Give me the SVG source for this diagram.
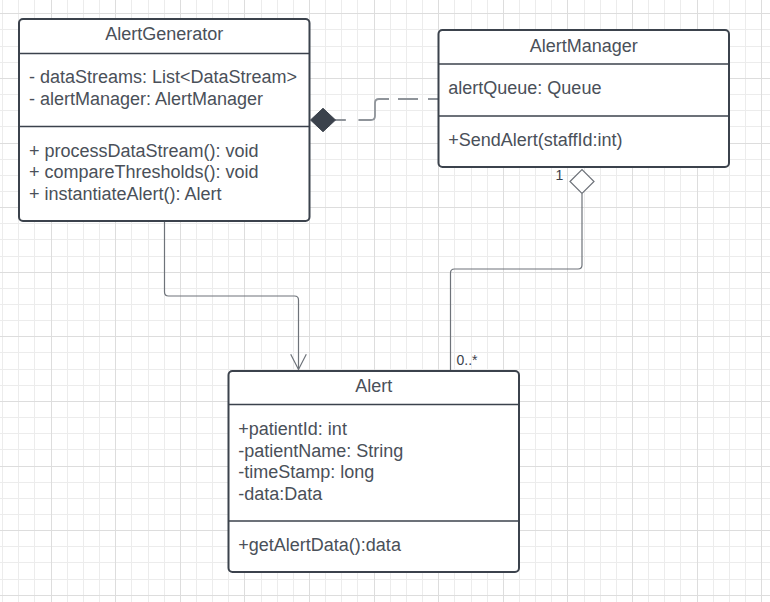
<svg xmlns="http://www.w3.org/2000/svg" width="770" height="602" viewBox="0 0 770 602">
<style>
.minor{stroke:#ececec;stroke-width:1;fill:none}
.major{stroke:#dddddd;stroke-width:1;fill:none}
.box{fill:#ffffff;stroke:#3b424c;stroke-width:2}
.div{stroke:#3b424c;stroke-width:1.6}
.t{font-family:"Liberation Sans",Arial,sans-serif;font-size:18px;fill:#4a5059}
.c{text-anchor:middle}
.lbl{font-family:"Liberation Sans",Arial,sans-serif;font-size:14px;fill:#3b424c}
.conn{fill:none;stroke:#6e737a;stroke-width:1.2}
</style>
<rect width="770" height="602" fill="#ffffff"/>
<g id="grid">
<path class="minor" d="M2.5,0V602M18.5,0V602M34.5,0V602M67.5,0V602M83.5,0V602M99.5,0V602M131.5,0V602M148.5,0V602M164.5,0V602M196.5,0V602M212.5,0V602M228.5,0V602M261.5,0V602M277.5,0V602M293.5,0V602M325.5,0V602M341.5,0V602M357.5,0V602M390.5,0V602M406.5,0V602M422.5,0V602M454.5,0V602M471.5,0V602M487.5,0V602M519.5,0V602M535.5,0V602M551.5,0V602M584.5,0V602M600.5,0V602M616.5,0V602M648.5,0V602M664.5,0V602M680.5,0V602M713.5,0V602M729.5,0V602M745.5,0V602
M0,29.5H770M0,46.5H770M0,62.5H770M0,94.5H770M0,110.5H770M0,126.5H770M0,159.5H770M0,175.5H770M0,191.5H770M0,223.5H770M0,239.5H770M0,256.5H770M0,288.5H770M0,304.5H770M0,320.5H770M0,352.5H770M0,369.5H770M0,385.5H770M0,417.5H770M0,433.5H770M0,449.5H770M0,482.5H770M0,498.5H770M0,514.5H770M0,546.5H770M0,562.5H770M0,579.5H770"/>
<path class="major" d="M51.5,0V602M115.5,0V602M180.5,0V602M244.5,0V602M309.5,0V602M374.5,0V602M438.5,0V602M503.5,0V602M567.5,0V602M632.5,0V602M697.5,0V602M761.5,0V602
M0,13.5H770M0,78.5H770M0,143.5H770M0,207.5H770M0,272.5H770M0,336.5H770M0,401.5H770M0,466.5H770M0,530.5H770M0,595.5H770"/>
</g>
<g id="connectors">
<path class="conn" d="M164.5,222V292Q164.5,296 168.5,296H294.5Q298.5,296 298.5,300V369.5"/>
<path class="conn" d="M290.7,354.3L298.5,369.5L306.3,354.3"/>
<path class="conn" d="M582,193.5V265Q582,269 578,269H454.5Q450.5,269 450.5,273V370"/>
<path d="M570,181.5L582,169.5L594,181.5L582,193.5Z" fill="#ffffff" stroke="#6e737a" stroke-width="1.2"/>
<path d="M438,99H379Q375,99 375,103V116Q375,120 371,120H335" fill="none" stroke="#8f949a" stroke-width="1.8" stroke-dasharray="10 10 20 9 48.2 12.6 20"/>
<path d="M310.5,120L323,108.3L335.5,120L323,131.7Z" fill="#3b424c" stroke="#3b424c" stroke-width="1"/>
<text class="lbl" x="555.5" y="179.5">1</text>
<text class="lbl" x="456.5" y="365">0..*</text>
</g>
<g id="AlertGenerator">
<rect class="box" x="19" y="19" width="290.5" height="202" rx="4"/>
<line class="div" x1="19" y1="53.5" x2="309.5" y2="53.5"/>
<line class="div" x1="19" y1="126.5" x2="309.5" y2="126.5"/>
<text class="t c" x="164.25" y="40">AlertGenerator</text>
<text class="t" x="29" y="83.3">- dataStreams: List&lt;DataStream&gt;</text>
<text class="t" x="29" y="104.8">- alertManager: AlertManager</text>
<text class="t" x="29" y="156.7">+ processDataStream(): void</text>
<text class="t" x="29" y="178.2">+ compareThresholds(): void</text>
<text class="t" x="29" y="199.7">+ instantiateAlert(): Alert</text>
</g>
<g id="AlertManager">
<rect class="box" x="438.5" y="30" width="290.5" height="137" rx="4"/>
<line class="div" x1="438.5" y1="64" x2="729" y2="64"/>
<line class="div" x1="438.5" y1="116" x2="729" y2="116"/>
<text class="t c" x="583.75" y="51.5">AlertManager</text>
<text class="t" x="448.3" y="94">alertQueue: Queue</text>
<text class="t" x="448.3" y="146">+SendAlert(staffId:int)</text>
</g>
<g id="Alert">
<rect class="box" x="228.5" y="371" width="290.5" height="201" rx="4"/>
<line class="div" x1="228.5" y1="404.5" x2="519" y2="404.5"/>
<line class="div" x1="228.5" y1="521" x2="519" y2="521"/>
<text class="t c" x="373.75" y="391.7">Alert</text>
<text class="t" x="238.3" y="435">+patientId: int</text>
<text class="t" x="238.3" y="456.6">-patientName: String</text>
<text class="t" x="238.3" y="478.2">-timeStamp: long</text>
<text class="t" x="238.3" y="499.8">-data:Data</text>
<text class="t" x="238.3" y="550.7">+getAlertData():data</text>
</g>
</svg>
